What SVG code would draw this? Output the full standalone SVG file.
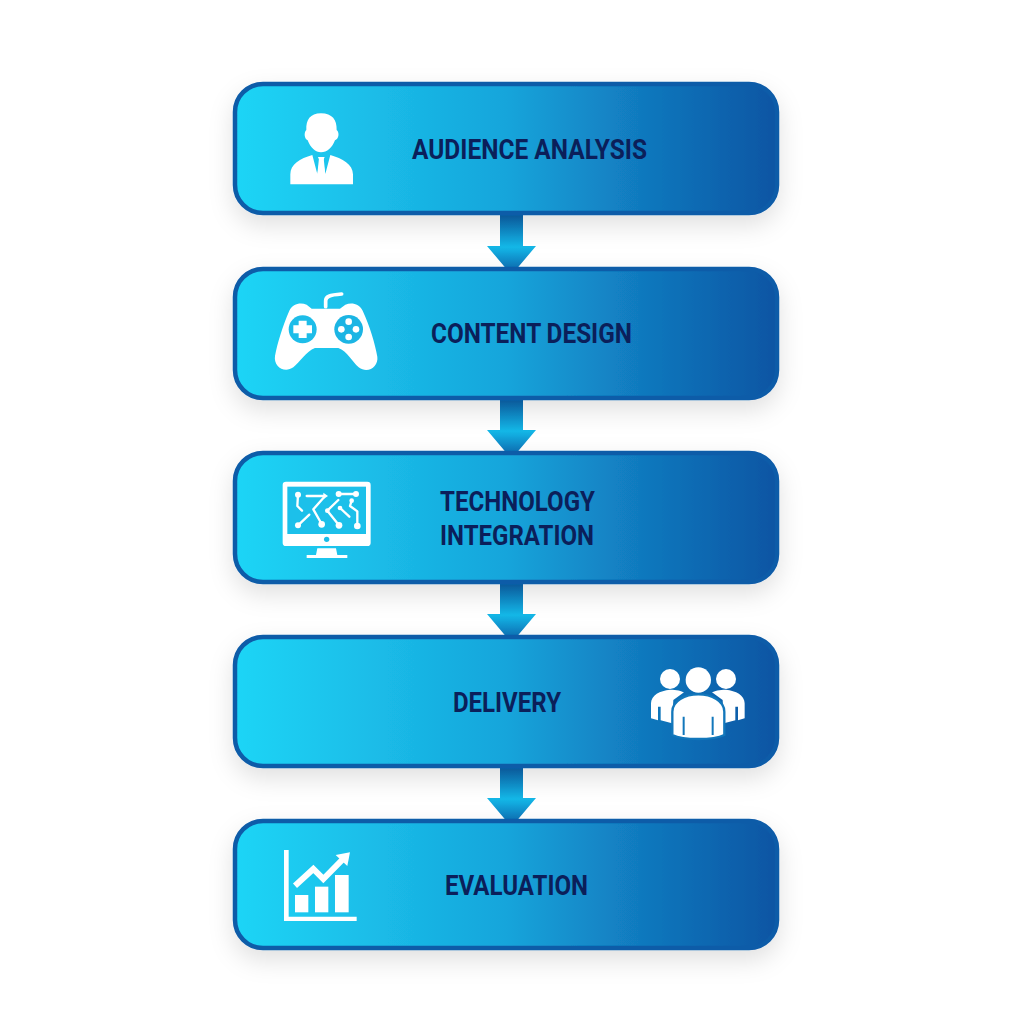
<svg xmlns="http://www.w3.org/2000/svg" width="1024" height="1024" viewBox="0 0 1024 1024">
<defs>
<linearGradient id="boxFill" x1="0" y1="0" x2="1" y2="0"><stop offset="0" stop-color="#1fd5f6"/><stop offset="0.5" stop-color="#16a5db"/><stop offset="0.75" stop-color="#1179be"/><stop offset="1" stop-color="#0e55a3"/></linearGradient>
<linearGradient id="arrowFill" x1="0" y1="0" x2="0" y2="1"><stop offset="0" stop-color="#0b5ba5"/><stop offset="0.55" stop-color="#13b8e8"/><stop offset="1" stop-color="#0c5ba6"/></linearGradient>
<filter id="shadow" x="-10%" y="-20%" width="120%" height="160%"><feDropShadow dx="0" dy="10" stdDeviation="12" flood-color="#000" flood-opacity="0.12"/></filter>
<path id="arrow" d="M500,0H523V33H536L511.5,62L487,33H500Z" fill="url(#arrowFill)"/>
</defs>
<style>
.box{fill:url(#boxFill);stroke:#0d5ba8;stroke-width:4.5;filter:url(#shadow)}
.lbl{font-family:Roboto,"Liberation Sans",sans-serif;font-weight:700;font-size:27px;fill:#0b1f5a}
.ic{fill:#fff}
.tr{fill:none;stroke:#fff;stroke-width:7;stroke-linecap:round;stroke-linejoin:round}
</style>
<rect width="1024" height="1024" fill="#fff"/>
<g id="connectors"><use href="#arrow" y="213"/><use href="#arrow" y="397"/><use href="#arrow" y="581"/><use href="#arrow" y="765"/></g>
<g id="node-audience"><rect class="box" x="235" y="84" width="542" height="129" rx="28"/>
<text class="lbl" x="412" y="159" textLength="235" lengthAdjust="spacingAndGlyphs">AUDIENCE ANALYSIS</text>
<g transform="translate(225,75) scale(.3333)"><path class="ic" d="M288,115C255,115 243,135 244,165C236,172 238,192 248,196C256,218 272,232 288,232C306,232 322,218 330,196C342,192 344,172 335,165C336,135 322,115 288,115Z"/><path class="ic" d="M196,328V298C196,268 225,250 262,240L277,297L282,250H296L301,297L316,240C352,250 384,268 384,298V328Z"/><path class="ic" d="M279,246H299L294,258L301,298L289,310L277,298L284,258Z"/></g></g>
<g id="node-content"><rect class="box" x="235" y="269" width="542" height="129" rx="28"/>
<text class="lbl" x="431" y="343" textLength="201" lengthAdjust="spacingAndGlyphs">CONTENT DESIGN</text>
<g transform="translate(260,280) scale(.3333)"><path d="M197,80V62C197,50 207,45 245,42" fill="none" stroke="#fff" stroke-width="11" stroke-linecap="round"/><path class="ic" d="M88,92C98,72 120,66 140,74L155,86H240L256,74C276,66 298,72 308,92C330,140 345,190 352,230C356,258 325,284 296,262C276,244 262,214 235,204H165C138,214 120,246 100,262C72,282 40,258 45,228C52,190 68,138 88,92Z"/><circle cx="128" cy="148" r="42" fill="#1dbde9"/><circle cx="266" cy="148" r="43" fill="#1bb5e4"/><path class="ic" d="M116,122H140V136H156V160H140V174H116V160H100V136H116Z"/><circle class="ic" cx="266" cy="125" r="10"/><circle class="ic" cx="266" cy="171" r="10"/><circle class="ic" cx="244" cy="148" r="10"/><circle class="ic" cx="288" cy="148" r="10"/></g></g>
<g id="node-technology"><rect class="box" x="235" y="453" width="542" height="129" rx="28"/>
<text class="lbl" x="440" y="511" textLength="155" lengthAdjust="spacingAndGlyphs">TECHNOLOGY</text>
<text class="lbl" x="440" y="545" textLength="154" lengthAdjust="spacingAndGlyphs">INTEGRATION</text>
<g transform="translate(270,470) scale(.3333)"><rect class="ic" x="38" y="35" width="264" height="193" rx="10"/><rect x="52" y="50" width="236" height="142" fill="#1cc0ea"/><circle cx="170" cy="208" r="8" fill="#1cbde8"/><path class="ic" d="M142,235H198L202,255H232V264H110V255H138Z"/>
<g class="tr"><path d="M84,74L82,108L96,122"/><path d="M84,166L118,134"/><path d="M110,78H165"/><path d="M160,84L130,118L155,162"/><path d="M206,72H258"/><path d="M205,90L172,122L207,166"/><path d="M210,114L238,140"/><path d="M245,92L240,108L262,124V168"/></g>
<g class="ic"><circle cx="84" cy="74" r="9"/><circle cx="84" cy="166" r="9"/><circle cx="155" cy="163" r="10"/><circle cx="207" cy="166" r="10"/><circle cx="262" cy="168" r="10"/><circle cx="206" cy="72" r="9"/><circle cx="258" cy="72" r="9"/><circle cx="172" cy="122" r="7"/><circle cx="210" cy="114" r="7"/><circle cx="245" cy="92" r="7"/><path d="M160,68L174,78L160,88Z"/></g></g></g>
<g id="node-delivery"><rect class="box" x="235" y="637" width="542" height="129" rx="28"/>
<text class="lbl" x="453" y="712" textLength="108" lengthAdjust="spacingAndGlyphs">DELIVERY</text>
<g transform="translate(640,655) scale(.3333)"><circle class="ic" cx="90" cy="72" r="30"/><circle class="ic" cx="258" cy="72" r="30"/><path class="ic" d="M33,190V145C33,120 60,107 90,104C110,104 125,108 132,112L100,135L96,205L62,196V155H54V196Z"/><path class="ic" d="M314,190V145C314,120 287,107 258,104C238,104 223,108 216,112L248,135L252,205L286,196V155H294V196Z"/><path class="ic" d="M97,240V170C97,138 135,118 175,118C215,118 253,138 253,170V240C220,256 130,256 97,240Z" stroke="#1277bb" stroke-width="7"/><circle class="ic" cx="175" cy="75" r="38"/><path d="M131,185V240M218,185V240" stroke="#1277bb" stroke-width="6"/></g></g>
<g id="node-evaluation"><rect class="box" x="235" y="821" width="542" height="127" rx="28"/>
<text class="lbl" x="445" y="895" textLength="143" lengthAdjust="spacingAndGlyphs">EVALUATION</text>
<g transform="translate(270,840) scale(.3333)"><path class="ic" d="M42,30H56V230H260V243H42Z"/><rect class="ic" x="75" y="165" width="40" height="52"/><rect class="ic" x="135" y="140" width="40" height="77"/><rect class="ic" x="195" y="105" width="41" height="112"/><path d="M75,137L130,87L160,117L218,58" fill="none" stroke="#fff" stroke-width="18"/><path class="ic" d="M197,45L240,37L232,78Z"/></g></g>
</svg>
